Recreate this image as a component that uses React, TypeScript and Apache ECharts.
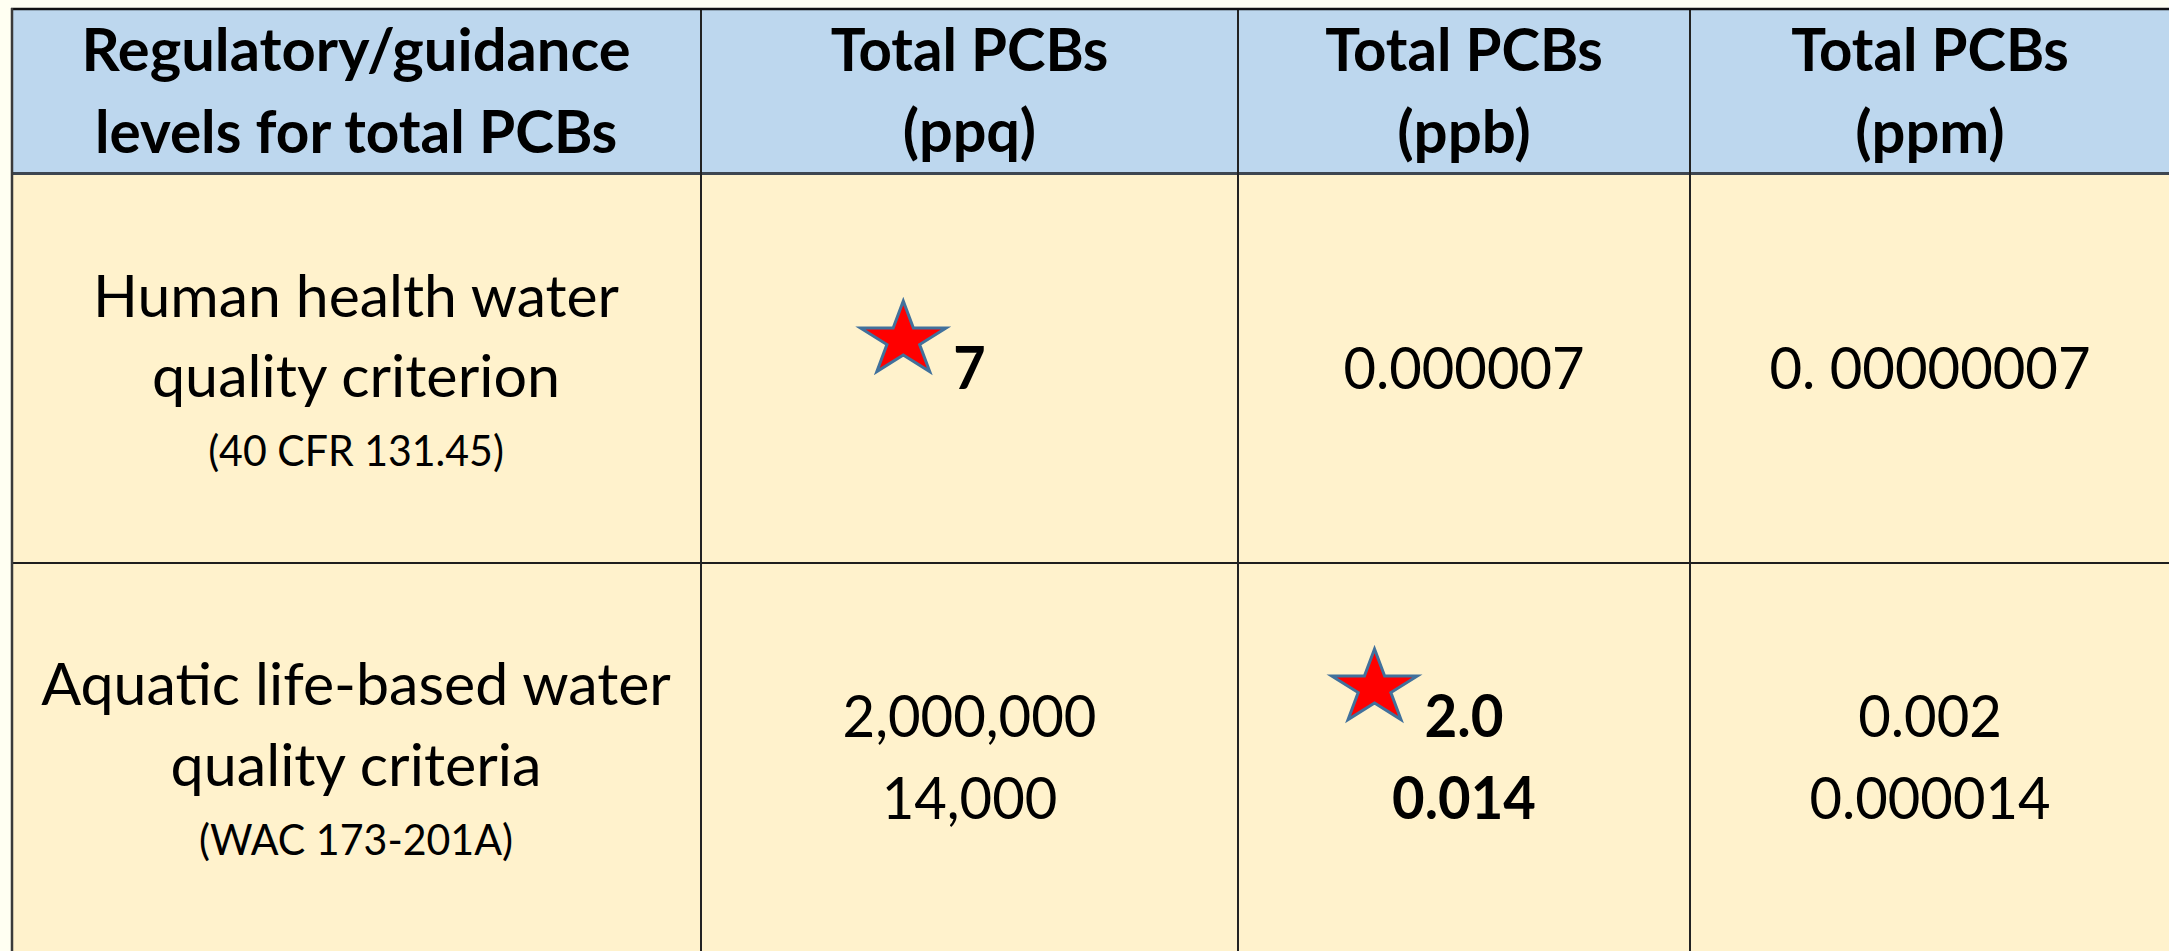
import React, { useEffect, useRef } from "react";
import * as echarts from "echarts";

// ---------- table content ----------
const headerLines: string[][] = [
  ["Regulatory/guidance", "levels for total PCBs"],
  ["Total PCBs", "(ppq)"],
  ["Total PCBs", "(ppb)"],
  ["Total PCBs", "(ppm)"],
];
const rowLabels: string[][] = [
  ["Human health water", "quality criterion"],
  ["Aquatic life-based water", "quality criteria"],
];
const rowSources: string[] = ["(40 CFR 131.45)", "(WAC 173-201A)"];
const ppqValues: string[][] = [["7"], ["2,000,000", "14,000"]];
const ppbValues: string[][] = [["0.000007"], ["2.0", "0.014"]];
const ppmValues: string[][] = [["0. 00000007"], ["0.002", "0.000014"]];
// which value column (0 ppq, 1 ppb, 2 ppm) is the applicable (starred, bold) level per row
const starredColumn: number[] = [0, 1];

// ---------- layout ----------
const W = 2169;
const H = 951;
const PAGE_BG = "#FFFFF2";
const HEAD_BG = "#BDD7EE";
const BODY_BG = "#FFF2CC";
const FONT = "Lato";
const K = 0.92; // font size factor vs. Calibri
const DIGIT_R = 0.874;
const UPPER_R = 0.84;
const OTHER_R = 0.925;

const TABLE_LEFT = 11;
const TABLE_TOP = 8;
const COL_EDGES = [TABLE_LEFT, 701, 1238, 1690, W + 20];
const ROW_EDGES = [TABLE_TOP, 173, 563, 951];
const BIG = 64;
const SMALL = 47;
const LINE = 82;
const DY = -3;

let ctx: CanvasRenderingContext2D | null = null;
function measure(s: string, size: number, bold: boolean): number {
  if (!ctx) ctx = document.createElement("canvas").getContext("2d");
  ctx!.font = `${bold ? "bold " : ""}${size}px ${FONT}`;
  return ctx!.measureText(s).width;
}
function ratio(ch: string): number {
  if (/[0-9]/.test(ch)) return DIGIT_R;
  if (/[A-Z]/.test(ch)) return UPPER_R;
  return OTHER_R;
}
function targetWidth(s: string, size: number, bold: boolean): number {
  let t = 0;
  for (const ch of s) t += measure(ch, size, bold) * ratio(ch);
  return t;
}

function txt(s: string, cx: number, cy: number, size: number, bold: boolean) {
  const fs = size * K;
  const sx = targetWidth(s, size, bold) / measure(s, fs, bold);
  return {
    type: "text",
    x: cx,
    y: cy + DY,
    scaleX: sx,
    silent: true,
    style: {
      text: s,
      fontSize: fs,
      fontWeight: bold ? "bold" : "normal",
      fontFamily: FONT,
      fill: "#000000",
      textAlign: "center",
      textVerticalAlign: "middle",
      align: "center",
      verticalAlign: "middle",
    },
  };
}

function star(cx: number, cy: number, rx: number, ry: number) {
  const pts: number[][] = [];
  const inner = 0.382;
  for (let i = 0; i < 10; i++) {
    const a = -Math.PI / 2 + (i * Math.PI) / 5;
    const r = i % 2 === 0 ? 1 : inner;
    pts.push([cx + Math.cos(a) * rx * r, cy + Math.sin(a) * ry * r]);
  }
  return {
    type: "polygon",
    silent: true,
    shape: { points: pts },
    style: { fill: "#FF0000", stroke: "#41719C", lineWidth: 3, lineJoin: "miter" },
  };
}

function hline(y: number, x1: number, x2: number, w: number, c: string) {
  return { type: "line", silent: true, shape: { x1, y1: y, x2, y2: y }, style: { stroke: c, lineWidth: w } };
}
function vline(x: number, y1: number, y2: number, w: number, c: string) {
  return { type: "line", silent: true, shape: { x1: x, y1, x2: x, y2 }, style: { stroke: c, lineWidth: w } };
}

function buildElements() {
  const els: any[] = [];
  // fills
  els.push({ type: "rect", silent: true, shape: { x: TABLE_LEFT, y: TABLE_TOP, width: W, height: ROW_EDGES[1] - TABLE_TOP }, style: { fill: HEAD_BG } });
  els.push({ type: "rect", silent: true, shape: { x: TABLE_LEFT, y: ROW_EDGES[1], width: W, height: H }, style: { fill: BODY_BG } });

  const colCenter = (c: number) => (c === 3 ? 1930 : (COL_EDGES[c] + COL_EDGES[c + 1]) / 2);

  // header
  const hc = (ROW_EDGES[0] + ROW_EDGES[1]) / 2 + 1.5;
  headerLines.forEach((lines, c) => {
    const cx = colCenter(c);
    lines.forEach((l, i) => {
      els.push(txt(l, cx, hc + (i - (lines.length - 1) / 2) * LINE, BIG, true));
    });
  });

  // body rows
  const valueCols = [ppqValues, ppbValues, ppmValues];
  rowLabels.forEach((lines, r) => {
    const rc = (ROW_EDGES[r + 1] + ROW_EDGES[r + 2]) / 2;
    const lx = colCenter(0);
    els.push(txt(lines[0], lx, rc - 71, BIG, false));
    els.push(txt(lines[1], lx, rc + 10, BIG, false));
    els.push(txt(rowSources[r], lx, rc + 84, SMALL, false));

    valueCols.forEach((col, ci) => {
      const vals = col[r];
      const cx = colCenter(ci + 1);
      const bold = starredColumn[r] === ci;
      vals.forEach((v, i) => {
        const cy = rc + 1 + (i - (vals.length - 1) / 2) * LINE;
        els.push(txt(v, cx, cy, BIG, bold));
      });
      if (bold) {
        const w = targetWidth(vals[0], BIG, true);
        const cy0 = rc + 1 - ((vals.length - 1) / 2) * LINE;
        els.push(star(cx - w / 2 - 50, cy0 - 29, 45, 39));
      }
    });
  });

  // grid lines
  els.push(hline(ROW_EDGES[1] + 0.5, TABLE_LEFT, W + 20, 3, "#3E4650"));
  els.push(hline(ROW_EDGES[2], TABLE_LEFT, W + 20, 2, "#1E1E1E"));
  [COL_EDGES[1], COL_EDGES[2], COL_EDGES[3]].forEach((x) => els.push(vline(x, TABLE_TOP, H + 20, 2, "#222222")));
  els.push(hline(TABLE_TOP + 1, TABLE_LEFT, W + 20, 2.5, "#111111"));
  els.push(vline(TABLE_LEFT + 1, TABLE_TOP, H + 20, 2.5, "#3A3A3A"));
  return els;
}

export default function App() {
  const ref = useRef<HTMLDivElement>(null);
  useEffect(() => {
    document.body.style.margin = "0";
    document.body.style.background = PAGE_BG;
    const chart = echarts.init(ref.current!, null, { renderer: "svg", width: W, height: H });
    chart.setOption({
      animation: false,
      backgroundColor: PAGE_BG,
      graphic: { elements: buildElements() },
    });
    return () => chart.dispose();
  }, []);
  return <div ref={ref} style={{ width: W, height: H }} />;
}
